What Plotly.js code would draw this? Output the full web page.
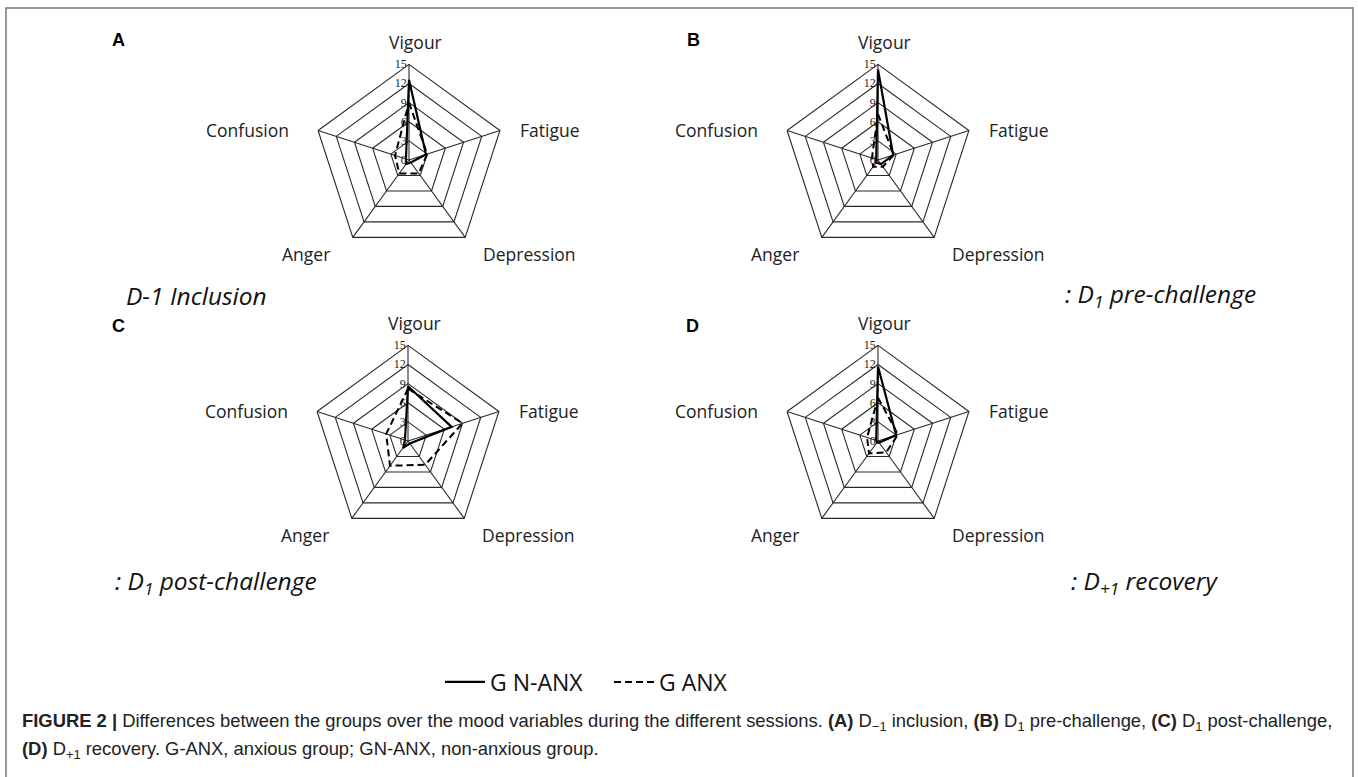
<!DOCTYPE html>
<html>
<head>
<meta charset="utf-8">
<script src="https://cdn.plot.ly/plotly-3.0.1.min.js"></script>
<style>
  html, body { margin: 0; padding: 0; background: #ffffff; }
  #chart { width: 1358px; height: 777px; }
</style>
</head>
<body>
<div id="chart"></div>
<script>
// ---- data ----
const categories = ['Vigour', 'Fatigue', 'Depression', 'Anger', 'Confusion'];
const radialTicks = [0, 3, 6, 9, 12, 15];
const seriesNames = ['G N-ANX', 'G ANX'];

const nanxA = [12.6, 2.8, 0.5, 0.8, 0.5];
const anxA  = [9.0, 3.0, 2.6, 2.6, 2.3];
const nanxB = [14.2, 2.5, 0.8, 0.5, 0.3];
const anxB  = [7.2, 2.6, 1.3, 1.3, 1.0];
const nanxC = [8.6, 7.2, 0.5, 1.3, 0.5];
const anxC  = [8.2, 9.0, 4.6, 4.8, 3.6];
const nanxD = [11.7, 3.0, 0.3, 0.3, 0.3];
const anxD  = [6.8, 3.3, 2.2, 2.4, 1.8];

const panelLetters = ['A', 'B', 'C', 'D'];
const sessionLabels = ['D-1 Inclusion', ': D<sub>1</sub> pre-challenge', ': D<sub>1</sub> post-challenge', ': D<sub>+1</sub> recovery'];

// ---- layout helpers ----
const W = 1358, H = 777, R = 95.6;
const centers = [[409, 160], [878, 160], [408, 441], [878, 441]];
function dom(c) {
  return { x: [(c[0] - R) / W, (c[0] + R) / W], y: [1 - (c[1] + R) / H, 1 - (c[1] - R) / H] };
}
const px = x => x / W;
const py = y => 1 - y / H;

const panels = [[nanxA, anxA], [nanxB, anxB], [nanxC, anxC], [nanxD, anxD]];
const closeLoop = a => a.concat([a[0]]);
const thetaClosed = closeLoop(categories);

const traces = [];
panels.forEach((p, i) => {
  const sub = i === 0 ? 'polar' : 'polar' + (i + 1);
  traces.push({
    type: 'scatterpolar', subplot: sub, mode: 'lines',
    r: closeLoop(p[0]), theta: thetaClosed, name: seriesNames[0],
    line: { color: '#000000', width: 2.2 }, showlegend: i === 0, hoverinfo: 'skip'
  });
  traces.push({
    type: 'scatterpolar', subplot: sub, mode: 'lines',
    r: closeLoop(p[1]), theta: thetaClosed, name: seriesNames[1],
    line: { color: '#000000', width: 2, dash: '7px,4px' }, showlegend: i === 0, hoverinfo: 'skip'
  });
});

function polarCfg(c) {
  return {
    domain: dom(c),
    gridshape: 'linear',
    bgcolor: 'rgba(0,0,0,0)',
    radialaxis: {
      range: [0, 15], tickvals: radialTicks, ticktext: radialTicks.map(String),
      angle: 90, side: 'counterclockwise', tickangle: 90,
      showline: false, ticks: '', gridcolor: '#2a2a2a', gridwidth: 1.1,
      tickfont: { family: 'Liberation Serif, serif', size: 12, color: '#222' }
    },
    angularaxis: {
      direction: 'clockwise', rotation: 90,
      showline: true, linecolor: '#2a2a2a', linewidth: 1.1,
      gridcolor: '#2a2a2a', gridwidth: 1.1,
      showticklabels: false, ticks: ''
    }
  };
}

const annotations = [];
// category labels around each radar (offsets from panel centre)
const catOffsets = [[6, -118, 'center'], [109, -30, 'left'], [72, 94, 'left'], [-77, 94, 'right'], [-118, -30, 'right']];
centers.forEach(c => {
  categories.forEach((cat, k) => {
    const o = catOffsets[k];
    annotations.push({ text: cat, xref: 'paper', yref: 'paper', x: px(c[0] + o[0]), y: py(c[1] + o[1]),
      xanchor: o[2], yanchor: 'middle', showarrow: false,
      font: { family: 'Open Sans, sans-serif', size: 17.5, color: '#222' } });
  });
});
const letterPos = [[118, 40], [693, 40], [118, 326], [692, 326]];
panelLetters.forEach((t, i) => {
  annotations.push({ text: '<b>' + t + '</b>', xref: 'paper', yref: 'paper', x: px(letterPos[i][0]), y: py(letterPos[i][1]),
    xanchor: 'center', yanchor: 'middle', showarrow: false,
    font: { family: 'Liberation Sans, Arial, sans-serif', size: 18, color: '#000' } });
});
const sessPos = [[124, 295, 'left'], [1258, 295, 'right'], [113, 582, 'left'], [1220, 582, 'right']];
sessionLabels.forEach((t, i) => {
  annotations.push({ text: '<i>' + t + '</i>', xref: 'paper', yref: 'paper', x: px(sessPos[i][0]), y: py(sessPos[i][1]),
    xanchor: sessPos[i][2], yanchor: 'middle', showarrow: false,
    font: { family: 'Open Sans, sans-serif', size: 24.5, color: '#111' } });
});
const capFont = { family: 'Liberation Sans, Arial, sans-serif', size: 18.4, color: '#222' };
annotations.push({
  text: '<b>FIGURE 2 |</b> Differences between the groups over the mood variables during the different sessions. <b>(A)</b> D<sub>−1</sub> inclusion, <b>(B)</b> D<sub>1</sub> pre-challenge, <b>(C)</b> D<sub>1</sub> post-challenge,',
  xref: 'paper', yref: 'paper', x: px(20), y: py(722), xanchor: 'left', yanchor: 'middle', showarrow: false, font: capFont
});
annotations.push({
  text: '<b>(D)</b> D<sub>+1</sub> recovery. G-ANX, anxious group; GN-ANX, non-anxious group.',
  xref: 'paper', yref: 'paper', x: px(20), y: py(750), xanchor: 'left', yanchor: 'middle', showarrow: false, font: capFont
});

const layout = {
  width: W, height: H,
  margin: { l: 0, r: 0, t: 0, b: 0 },
  paper_bgcolor: '#ffffff',
  showlegend: true,
  legend: {
    orientation: 'h', x: px(440), y: py(682), xanchor: 'left', yanchor: 'middle',
    font: { family: 'Open Sans, sans-serif', size: 23, color: '#111' },
    itemwidth: 40, entrywidth: 114, entrywidthmode: 'pixels', bgcolor: 'rgba(0,0,0,0)'
  },
  polar: polarCfg(centers[0]),
  polar2: polarCfg(centers[1]),
  polar3: polarCfg(centers[2]),
  polar4: polarCfg(centers[3]),
  annotations: annotations,
  shapes: [{
    type: 'rect', xref: 'paper', yref: 'paper',
    x0: px(6), x1: px(1353), y0: -0.05, y1: py(8),
    line: { color: '#777', width: 1.5 }, fillcolor: 'rgba(0,0,0,0)'
  }]
};

Plotly.newPlot('chart', traces, layout, { staticPlot: true, displayModeBar: false });
</script>
</body>
</html>
